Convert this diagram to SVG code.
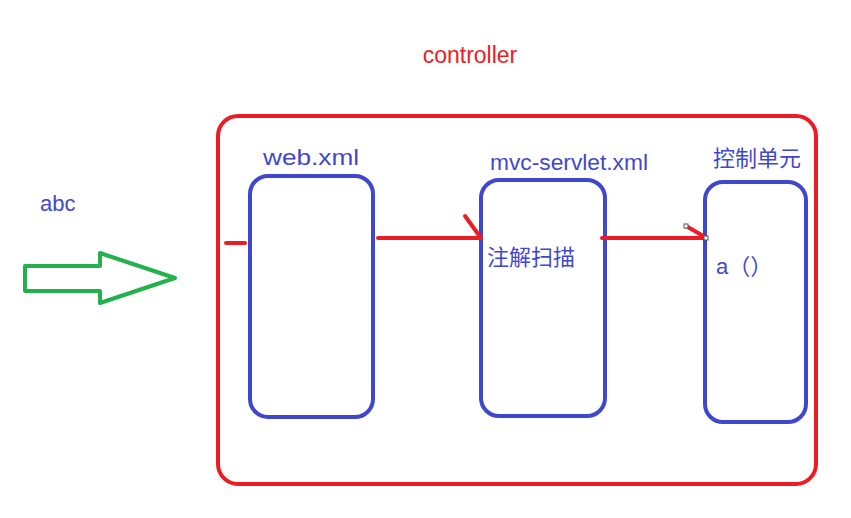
<svg xmlns="http://www.w3.org/2000/svg" width="851" height="518" viewBox="0 0 851 518">
<style>
.box{fill:none;stroke:#3f48cc;stroke-width:4}
.red{fill:none;stroke:#ed1c24;stroke-width:4;stroke-linecap:round}
.t{font-family:"Liberation Sans","Noto Sans CJK SC",sans-serif;fill:#3f48cc;font-size:22px}
</style>
<rect width="851" height="518" fill="#fff"/>
<text x="470" y="63" text-anchor="middle" font-family="Liberation Sans, sans-serif" font-size="23" fill="#ed1c24">controller</text>
<rect id="controller" x="218" y="116" width="598" height="368" rx="20" class="red"/>
<text class="t" x="40" y="211" font-size="21">abc</text>
<polygon id="input-arrow" points="25,266 100,266 100,253 175,278 100,303 100,291 25,291" fill="none" stroke="#22b14c" stroke-width="4" stroke-linejoin="round"/>
<g id="web">
<rect x="250" y="176" width="123" height="241" rx="18" class="box"/>
<text class="t" x="263" y="165" textLength="96" lengthAdjust="spacingAndGlyphs">web.xml</text>
</g>
<g id="mvc">
<rect x="481" y="180" width="124" height="236" rx="18" class="box"/>
<text class="t" x="490" y="170" textLength="158" lengthAdjust="spacingAndGlyphs">mvc-servlet.xml</text>
<text class="t" x="487" y="265" font-size="21">注解扫描</text>
</g>
<g id="unit">
<rect x="705" y="182" width="101" height="240" rx="18" class="box"/>
<text class="t" x="713" y="166" font-size="21">控制单元</text>
<text class="t" x="716" y="274" font-size="19">a（）</text>
</g>
<g id="connectors">
<line x1="226" y1="243" x2="245" y2="243" class="red"/>
<path d="M378,238 H481 M465,216 L481,238" class="red"/>
<path d="M602,238 H705 M686,226 L705,237" class="red"/>
<rect x="684" y="224" width="4" height="4" fill="#fff" stroke="#555" stroke-width="1"/>
<rect x="704" y="236" width="4" height="4" fill="#fff" stroke="#555" stroke-width="1"/>
</g>
</svg>
